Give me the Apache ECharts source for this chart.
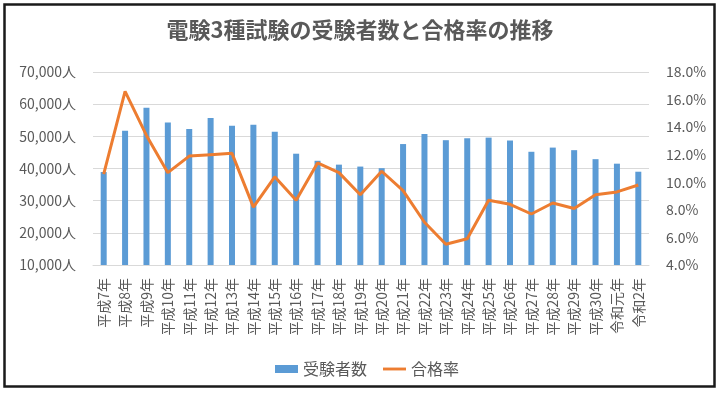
<!DOCTYPE html>
<html>
<head>
<meta charset="utf-8">
<script src="https://cdn.jsdelivr.net/npm/echarts@6/dist/echarts.min.js"></script>
<style>
html,body{margin:0;padding:0;background:#fff;}
#c{width:720px;height:394px;}
</style>
</head>
<body>
<div id="c"></div>
<script>
const categories = ['平成7年','平成8年','平成9年','平成10年','平成11年','平成12年','平成13年','平成14年','平成15年','平成16年','平成17年','平成18年','平成19年','平成20年','平成21年','平成22年','平成23年','平成24年','平成25年','平成26年','平成27年','平成28年','平成29年','平成30年','令和元年','令和2年'];
const examinees = [38900,51700,58900,54300,52300,55700,53300,53600,51400,44600,42400,41200,40600,40100,47600,50700,48800,49400,49600,48700,45200,46500,45700,42900,41500,39000];
const passRate = [10.6,16.6,13.4,10.7,11.9,12.0,12.1,8.2,10.4,8.7,11.4,10.7,9.1,10.8,9.4,7.1,5.5,5.9,8.7,8.4,7.7,8.5,8.1,9.1,9.3,9.8];
const leftTicks = {min:10000, max:70000, interval:10000};
const rightTicks = {min:4, max:18, interval:2};

const FONT = '"Noto Sans CJK JP", "Noto Sans", sans-serif';
const chart = echarts.init(document.getElementById('c'), null, {renderer:'canvas'});
chart.setOption({
  animation:false,
  backgroundColor:'#fff',
  textStyle:{fontFamily:FONT},
  title:{
    text:'電験3種試験の受験者数と合格率の推移',
    left:'center', top:19, padding:0,
    textStyle:{fontSize:22, fontWeight:'bold', color:'#595959', fontFamily:FONT}
  },
  graphic:[{
    type:'rect', shape:{x:4.5,y:4.5,width:710,height:382},
    style:{fill:'none', stroke:'#1a1a1a', lineWidth:2.5}, silent:true
  }],
  legend:{
    left:270, top:355, itemGap:16, itemWidth:23, itemHeight:8, symbolKeepAspect:true,
    textStyle:{fontSize:16, color:'#595959', fontFamily:FONT, lineHeight:18},
    data:[{name:'受験者数', icon:'rect'}, {name:'合格率', icon:'path://M0,0h24v3h-24z', itemStyle:{color:'#ED7D31'}}]
  },
  grid:{left:93, right:71, top:72, bottom:129, containLabel:false},
  xAxis:{
    type:'category', data:categories, boundaryGap:true,
    axisLine:{show:true, lineStyle:{color:'#D9D9D9', width:1}},
    axisTick:{show:false},
    axisLabel:{rotate:90, interval:0, margin:13, fontSize:14, color:'#595959', fontFamily:FONT}
  },
  yAxis:[{
    type:'value', min:leftTicks.min, max:leftTicks.max, interval:leftTicks.interval,
    axisLine:{show:false}, axisTick:{show:false},
    splitLine:{lineStyle:{color:'#D9D9D9', width:1}},
    axisLabel:{margin:17, fontSize:14, color:'#595959', fontFamily:FONT,
      formatter:v=>v.toLocaleString('en-US')+'人'}
  },{
    type:'value', min:rightTicks.min, max:rightTicks.max, interval:rightTicks.interval,
    position:'right',
    axisLine:{show:false}, axisTick:{show:false}, splitLine:{show:false},
    axisLabel:{margin:17, fontSize:14, color:'#595959', fontFamily:FONT,
      formatter:v=>v.toFixed(1)+'%'}
  }],
  series:[{
    name:'受験者数', type:'bar', data:examinees, yAxisIndex:0, barWidth:6,
    itemStyle:{color:'#5B9BD5'}
  },{
    name:'合格率', type:'line', data:passRate, yAxisIndex:1,
    symbol:'none', lineStyle:{color:'#ED7D31', width:3}, itemStyle:{color:'#ED7D31'}, z:3
  }]
});
</script>
</body>
</html>
